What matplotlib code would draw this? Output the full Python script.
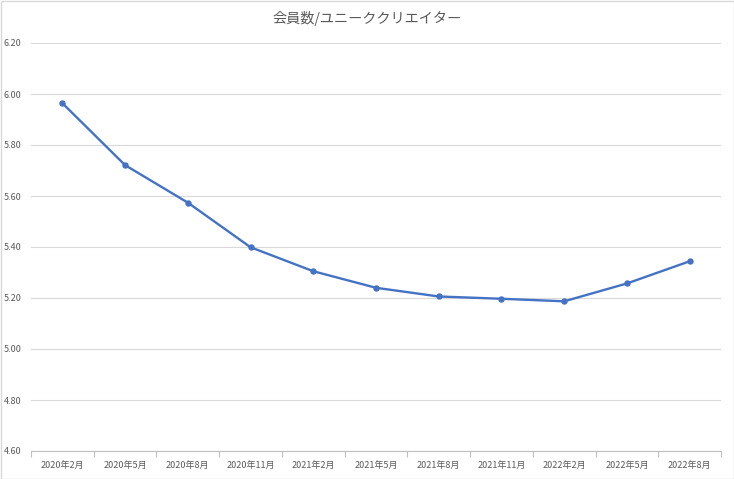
import matplotlib
matplotlib.use("Agg")
import matplotlib.pyplot as plt
from matplotlib.patches import Rectangle
import numpy as np

plt.rcParams['font.family'] = ['Noto Sans CJK JP', 'DejaVu Sans']

title = "会員数/ユニーククリエイター"
categories = ["2020年2月", "2020年5月", "2020年8月", "2020年11月", "2021年2月", "2021年5月",
              "2021年8月", "2021年11月", "2022年2月", "2022年5月", "2022年8月"]
values = [5.964, 5.721, 5.574, 5.399, 5.305, 5.240, 5.206, 5.197, 5.187, 5.257, 5.344]
yticks = [4.60, 4.80, 5.00, 5.20, 5.40, 5.60, 5.80, 6.00, 6.20]

fig = plt.figure(figsize=(7.34, 4.79), dpi=100)
ax = fig.add_axes([31/734, 1-451/479, 690/734, 408/479])

x = np.arange(len(categories))
ax.plot(x, values, color="#4472C4", lw=1.7, marker="o", ms=3.6, zorder=3)

ax.set_xlim(-0.5, len(categories) - 0.5)
ax.set_ylim(4.60, 6.20)
ax.set_yticks(yticks)
ax.set_yticklabels([f"{v:.2f}" for v in yticks])
ax.set_xticks(x)
ax.set_xticklabels(categories)
ax.set_xticks(np.arange(-0.5, len(categories)), minor=True)

ax.grid(axis="y", color="#d9d9d9", lw=0.8)
ax.set_axisbelow(True)
for s in ["top", "right", "left"]:
    ax.spines[s].set_visible(False)
ax.spines["bottom"].set_color("#bfbfbf")
ax.spines["bottom"].set_linewidth(0.8)

ax.tick_params(axis="y", length=0, labelsize=6.5, labelcolor="#595959", pad=7)
ax.tick_params(axis="x", which="major", length=0, labelsize=6.5, labelcolor="#595959", pad=7)
ax.tick_params(axis="x", which="minor", length=4, color="#bfbfbf", width=0.8)

fig.text(0.5, 1-18/479, title, ha="center", va="center", fontsize=10.2, color="#595959")

fig.patches.append(Rectangle((0.5/734, 0.5/479), 733/734, 478/479, transform=fig.transFigure,
                             fill=False, edgecolor="#d9d9d9", lw=1))

fig.savefig("out.png", dpi=100)
